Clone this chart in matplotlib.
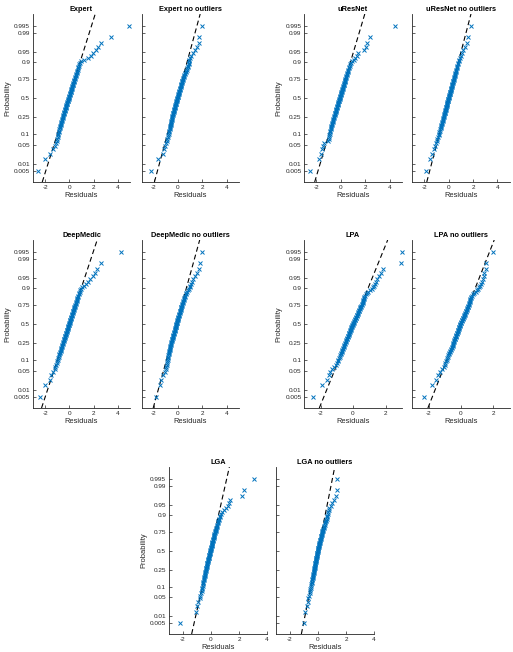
import math
import numpy as np
import matplotlib
matplotlib.use('Agg')
import matplotlib.pyplot as plt
from statistics import NormalDist

plt.rcParams['font.family'] = ['Liberation Sans', 'DejaVu Sans']
plt.rcParams['axes.unicode_minus'] = False

# ---------------- data (sorted residuals) ----------------
titles = ['Expert', 'Expert no outliers', 'uResNet', 'uResNet no outliers',
          'DeepMedic', 'DeepMedic no outliers', 'LPA', 'LPA no outliers',
          'LGA', 'LGA no outliers']

expert = [-2.59, -2.02, -1.58, -1.35, -1.22, -1.12, -1.05, -1.00, -0.97, -0.95,
          -0.92, -0.89, -0.86, -0.84, -0.81, -0.78, -0.76, -0.73, -0.71, -0.68,
          -0.66, -0.64, -0.61, -0.58, -0.56, -0.54, -0.52, -0.50, -0.47, -0.45,
          -0.43, -0.41, -0.39, -0.37, -0.35, -0.33, -0.31, -0.29, -0.27, -0.25,
          -0.24, -0.22, -0.20, -0.18, -0.16, -0.14, -0.12, -0.11, -0.09, -0.07,
          -0.05, -0.03, -0.01, 0.00, 0.02, 0.04, 0.06, 0.08, 0.10, 0.11,
          0.13, 0.15, 0.17, 0.19, 0.21, 0.23, 0.25, 0.27, 0.29, 0.31,
          0.33, 0.35, 0.38, 0.40, 0.42, 0.44, 0.47, 0.49, 0.52, 0.54,
          0.57, 0.60, 0.62, 0.65, 0.68, 0.71, 0.75, 0.79, 0.83, 0.88,
          0.95, 1.20, 1.50, 1.80, 1.98, 2.22, 2.40, 2.62, 3.40, 4.95]

expert_no = [-2.23, -1.66, -1.20, -1.12, -1.06, -0.97, -0.92, -0.88, -0.82, -0.80,
             -0.77, -0.74, -0.72, -0.70, -0.68, -0.66, -0.64, -0.62, -0.60, -0.58,
             -0.56, -0.55, -0.53, -0.51, -0.50, -0.48, -0.46, -0.44, -0.42, -0.40,
             -0.39, -0.37, -0.35, -0.34, -0.32, -0.30, -0.29, -0.27, -0.25, -0.24,
             -0.22, -0.21, -0.19, -0.17, -0.16, -0.14, -0.12, -0.11, -0.09, -0.07,
             -0.06, -0.04, -0.03, -0.01, 0.00, 0.02, 0.04, 0.05, 0.07, 0.09,
             0.11, 0.12, 0.14, 0.16, 0.18, 0.20, 0.22, 0.24, 0.26, 0.28,
             0.30, 0.32, 0.34, 0.36, 0.38, 0.40, 0.42, 0.45, 0.48, 0.51,
             0.54, 0.58, 0.62, 0.66, 0.70, 0.74, 0.78, 0.83, 0.86, 0.88,
             0.90, 0.93, 0.97, 1.10, 1.25, 1.40, 1.52, 1.72, 1.75, 1.93]

uresnet = [-2.55, -1.78, -1.64, -1.57, -1.45, -1.37, -1.05, -1.01, -0.97, -0.94,
           -0.91, -0.89, -0.87, -0.85, -0.83, -0.81, -0.78, -0.76, -0.73, -0.71,
           -0.68, -0.66, -0.63, -0.61, -0.58, -0.56, -0.54, -0.52, -0.50, -0.48,
           -0.46, -0.44, -0.42, -0.40, -0.38, -0.36, -0.34, -0.32, -0.30, -0.29,
           -0.27, -0.25, -0.23, -0.21, -0.20, -0.18, -0.16, -0.14, -0.13, -0.11,
           -0.09, -0.07, -0.06, -0.04, -0.02, 0.00, 0.01, 0.03, 0.05, 0.07,
           0.09, 0.10, 0.12, 0.14, 0.16, 0.18, 0.20, 0.22, 0.24, 0.26,
           0.28, 0.30, 0.32, 0.34, 0.36, 0.38, 0.41, 0.43, 0.45, 0.48,
           0.50, 0.53, 0.56, 0.58, 0.61, 0.64, 0.67, 0.71, 0.75, 0.80,
           0.95, 1.08, 1.20, 1.30, 1.42, 1.90, 2.05, 2.16, 2.38, 4.44]

uresnet_no = [-1.89, -1.55, -1.38, -1.22, -1.12, -1.04, -0.98, -0.93, -0.88, -0.84,
              -0.80, -0.77, -0.74, -0.71, -0.68, -0.65, -0.62, -0.60, -0.58, -0.55,
              -0.53, -0.51, -0.49, -0.47, -0.45, -0.43, -0.41, -0.39, -0.37, -0.35,
              -0.34, -0.32, -0.30, -0.28, -0.27, -0.25, -0.23, -0.22, -0.20, -0.18,
              -0.17, -0.15, -0.14, -0.12, -0.11, -0.09, -0.07, -0.06, -0.04, -0.03,
              -0.01, 0.00, 0.02, 0.03, 0.05, 0.07, 0.08, 0.10, 0.11, 0.13,
              0.15, 0.16, 0.18, 0.19, 0.21, 0.23, 0.24, 0.26, 0.28, 0.30,
              0.31, 0.33, 0.35, 0.37, 0.39, 0.41, 0.43, 0.45, 0.47, 0.49,
              0.51, 0.54, 0.56, 0.58, 0.61, 0.64, 0.66, 0.69, 0.72, 0.76,
              0.80, 0.85, 0.92, 0.98, 1.05, 1.15, 1.32, 1.50, 1.62, 1.81]

deepmedic = [-2.45, -1.99, -1.63, -1.50, -1.33, -1.22, -1.15, -1.08, -1.04, -1.00,
             -0.96, -0.92, -0.89, -0.85, -0.82, -0.79, -0.76, -0.73, -0.70, -0.68,
             -0.65, -0.62, -0.60, -0.57, -0.55, -0.52, -0.50, -0.48, -0.46, -0.43,
             -0.41, -0.39, -0.37, -0.35, -0.33, -0.31, -0.29, -0.27, -0.25, -0.23,
             -0.21, -0.19, -0.17, -0.15, -0.13, -0.11, -0.10, -0.08, -0.06, -0.04,
             -0.02, 0.00, 0.02, 0.04, 0.05, 0.07, 0.09, 0.11, 0.13, 0.15,
             0.17, 0.19, 0.21, 0.23, 0.25, 0.27, 0.29, 0.31, 0.33, 0.35,
             0.37, 0.40, 0.42, 0.44, 0.46, 0.49, 0.51, 0.54, 0.56, 0.59,
             0.62, 0.64, 0.67, 0.70, 0.73, 0.77, 0.80, 0.84, 0.88, 0.93,
             1.02, 1.20, 1.36, 1.55, 1.68, 1.96, 2.12, 2.31, 2.64, 4.27]

deepmedic_no = [-1.82, -1.50, -1.36, -1.22, -1.10, -1.00, -0.95, -0.93, -0.91, -0.88,
                -0.86, -0.84, -0.82, -0.80, -0.78, -0.76, -0.74, -0.72, -0.70, -0.68,
                -0.66, -0.65, -0.63, -0.61, -0.59, -0.57, -0.55, -0.53, -0.51, -0.49,
                -0.47, -0.45, -0.43, -0.41, -0.40, -0.38, -0.36, -0.34, -0.33, -0.31,
                -0.29, -0.28, -0.26, -0.25, -0.23, -0.21, -0.20, -0.18, -0.17, -0.15,
                -0.13, -0.12, -0.10, -0.08, -0.07, -0.05, -0.04, -0.02, 0.00, 0.01,
                0.03, 0.05, 0.06, 0.08, 0.10, 0.12, 0.14, 0.16, 0.18, 0.20,
                0.22, 0.24, 0.26, 0.28, 0.30, 0.32, 0.35, 0.37, 0.40, 0.43,
                0.46, 0.49, 0.52, 0.55, 0.58, 0.62, 0.66, 0.72, 0.80, 0.86,
                0.95, 1.02, 1.10, 1.17, 1.25, 1.36, 1.55, 1.71, 1.77, 1.93]

lpa = [-2.45, -1.90, -1.63, -1.50, -1.40, -1.27, -1.18, -1.08, -1.00, -0.95,
       -0.91, -0.87, -0.83, -0.80, -0.77, -0.74, -0.71, -0.68, -0.65, -0.63,
       -0.60, -0.58, -0.55, -0.53, -0.50, -0.48, -0.46, -0.44, -0.42, -0.40,
       -0.38, -0.36, -0.34, -0.32, -0.30, -0.28, -0.26, -0.25, -0.23, -0.21,
       -0.19, -0.17, -0.15, -0.13, -0.11, -0.10, -0.08, -0.06, -0.04, -0.02,
       0.00, 0.02, 0.04, 0.06, 0.08, 0.10, 0.12, 0.14, 0.16, 0.18,
       0.20, 0.22, 0.24, 0.26, 0.28, 0.30, 0.32, 0.35, 0.37, 0.39,
       0.41, 0.43, 0.45, 0.48, 0.50, 0.53, 0.56, 0.59, 0.61, 0.63,
       0.64, 0.65, 0.67, 0.70, 0.74, 0.79, 0.86, 0.95, 1.05, 1.14,
       1.22, 1.30, 1.38, 1.44, 1.50, 1.58, 1.70, 1.84, 2.95, 3.02]

lpa_no = [-2.29, -1.77, -1.53, -1.42, -1.32, -1.15, -1.05, -1.00, -0.96, -0.92,
          -0.88, -0.84, -0.80, -0.77, -0.74, -0.71, -0.68, -0.65, -0.62, -0.60,
          -0.57, -0.55, -0.52, -0.50, -0.48, -0.46, -0.44, -0.42, -0.40, -0.38,
          -0.36, -0.35, -0.33, -0.31, -0.29, -0.28, -0.26, -0.24, -0.22, -0.21,
          -0.19, -0.17, -0.16, -0.14, -0.12, -0.11, -0.09, -0.08, -0.06, -0.05,
          -0.03, -0.01, 0.01, 0.03, 0.05, 0.07, 0.09, 0.11, 0.13, 0.15,
          0.17, 0.19, 0.21, 0.23, 0.25, 0.27, 0.29, 0.31, 0.33, 0.35,
          0.37, 0.39, 0.41, 0.43, 0.45, 0.47, 0.49, 0.51, 0.53, 0.54,
          0.56, 0.58, 0.61, 0.65, 0.70, 0.76, 0.83, 0.90, 0.98, 1.05,
          1.12, 1.18, 1.24, 1.30, 1.36, 1.40, 1.45, 1.53, 1.57, 1.98]

lga = [-2.21, -1.10, -0.98, -0.90, -0.82, -0.76, -0.71, -0.67, -0.64, -0.62,
       -0.60, -0.58, -0.56, -0.54, -0.52, -0.51, -0.49, -0.47, -0.46, -0.44,
       -0.43, -0.41, -0.40, -0.38, -0.37, -0.35, -0.34, -0.33, -0.31, -0.30,
       -0.29, -0.27, -0.26, -0.25, -0.24, -0.22, -0.21, -0.20, -0.19, -0.17,
       -0.16, -0.15, -0.14, -0.12, -0.11, -0.10, -0.08, -0.07, -0.06, -0.05,
       -0.04, -0.02, -0.01, 0.00, 0.02, 0.03, 0.04, 0.05, 0.05, 0.06,
       0.07, 0.08, 0.09, 0.11, 0.12, 0.14, 0.16, 0.18, 0.19, 0.21,
       0.22, 0.24, 0.25, 0.27, 0.29, 0.31, 0.33, 0.35, 0.37, 0.39,
       0.41, 0.43, 0.45, 0.47, 0.50, 0.52, 0.55, 0.58, 0.61, 0.64,
       0.70, 0.80, 0.92, 1.08, 1.20, 1.30, 1.38, 2.24, 2.38, 3.10]

lga_no = [-0.98, -0.90, -0.79, -0.74, -0.68, -0.64, -0.60, -0.57, -0.54, -0.51,
          -0.49, -0.47, -0.45, -0.43, -0.42, -0.40, -0.39, -0.37, -0.36, -0.35,
          -0.33, -0.32, -0.31, -0.29, -0.28, -0.27, -0.26, -0.25, -0.24, -0.23,
          -0.22, -0.20, -0.19, -0.18, -0.17, -0.16, -0.15, -0.14, -0.13, -0.12,
          -0.11, -0.10, -0.09, -0.08, -0.07, -0.06, -0.05, -0.04, -0.03, -0.02,
          -0.01, 0.00, 0.01, 0.02, 0.03, 0.04, 0.05, 0.07, 0.08, 0.09,
          0.10, 0.11, 0.13, 0.14, 0.15, 0.17, 0.18, 0.19, 0.21, 0.22,
          0.24, 0.25, 0.27, 0.29, 0.31, 0.32, 0.34, 0.36, 0.38, 0.40,
          0.42, 0.44, 0.47, 0.49, 0.52, 0.55, 0.58, 0.61, 0.64, 0.67,
          0.70, 0.73, 0.77, 0.82, 0.90, 0.98, 1.12, 1.25, 1.34, 1.36]

# reference (dashed) line of each panel: residual = mu + sigma * z
line_mu = [-0.06, -0.07, -0.10, 0.00, -0.01, -0.14, 0.02, 0.00, -0.04, 0.00]
line_sigma = [0.733, 0.63, 0.69, 0.61, 0.77, 0.64, 0.706, 0.686, 0.452, 0.40]

x_limits = [(-3, 5), (-3, 5), (-3, 5), (-3, 5), (-3, 5), (-3, 5),
            (-3, 3), (-3, 3), (-3, 4), (-3, 4)]
x_ticks_big = [-2, 0, 2, 4]
x_ticks_small = [-2, 0, 2]

prob_ticks = [0.005, 0.01, 0.05, 0.1, 0.25, 0.5, 0.75, 0.9, 0.95, 0.99, 0.995]
prob_labels = ['0.005', '0.01', '0.05', '0.1', '0.25', '0.5', '0.75', '0.9',
               '0.95', '0.99', '0.995']

series = [expert, expert_no, uresnet, uresnet_no, deepmedic, deepmedic_no,
          lpa, lpa_no, lga, lga_no]

# ---------------- normal probability scale ----------------
_nd = NormalDist()
_ppf = np.vectorize(_nd.inv_cdf, otypes=[float])
_erf = np.vectorize(math.erf, otypes=[float])


def fwd(p):
    p = np.clip(np.asarray(p, dtype=float), 1e-12, 1 - 1e-12)
    return _ppf(p)


def inv(z):
    z = np.asarray(z, dtype=float)
    return 0.5 * (1.0 + _erf(z / math.sqrt(2.0)))


Z_LO, Z_HI = -2.97, 2.99

# ---------------- layout ----------------
W, H = 513, 652
fig = plt.figure(figsize=(W / 100, H / 100), dpi=100)

pos_px = [(33, 14, 97, 168), (141.5, 14, 97.5, 168),
          (304.3, 14, 97.5, 168), (412.3, 14, 97.3, 168),
          (33, 240, 97, 168), (141.5, 240, 97.5, 168),
          (304.3, 240, 97.5, 168), (412.3, 240, 97.3, 168),
          (169, 467, 98, 167), (276, 467, 98, 167)]

AX_COL = '#262626'
MARK_COL = '#0072BD'

for k, (title, vals) in enumerate(zip(titles, series)):
    l, t, w, h = pos_px[k]
    ax = fig.add_axes([l / W, 1 - (t + h) / H, w / W, h / H])
    ax.set_yscale('function', functions=(fwd, inv))

    v = np.sort(np.asarray(vals, dtype=float))
    n = len(v)
    p = (np.arange(1, n + 1) - 0.5) / n
    ax.plot(v, p, linestyle='none', marker='x', color=MARK_COL,
            markersize=3.2, markeredgewidth=0.7, clip_on=False, zorder=3)

    z = np.array([Z_LO, Z_HI])
    ax.plot(line_mu[k] + line_sigma[k] * z, inv(z), color='k', lw=0.8,
            dashes=(4.5, 2.8), zorder=2)

    ax.set_xlim(*x_limits[k])
    ax.set_ylim(float(inv(Z_LO)), float(inv(Z_HI)))
    ax.set_xticks(x_ticks_small if x_limits[k][1] == 3 else x_ticks_big)
    ax.set_yticks(prob_ticks)
    left_panel = (k % 2 == 0)
    ax.set_yticklabels(prob_labels if left_panel else [])
    ax.minorticks_off()

    for s in ('top', 'right'):
        ax.spines[s].set_visible(False)
    for s in ('left', 'bottom'):
        ax.spines[s].set_linewidth(0.6)
        ax.spines[s].set_color(AX_COL)
    ax.tick_params(direction='in', length=2, width=0.5, colors=AX_COL,
                   labelsize=4.6, pad=2)

    ax.set_title(title, fontsize=5.3, fontweight='bold', pad=2.5, color='k')
    ax.set_xlabel('Residuals', fontsize=5.4, labelpad=1.5, color=AX_COL)
    if left_panel:
        ax.set_ylabel('Probability', fontsize=5.4, labelpad=2, color=AX_COL)

fig.savefig('out.png', dpi=100)
